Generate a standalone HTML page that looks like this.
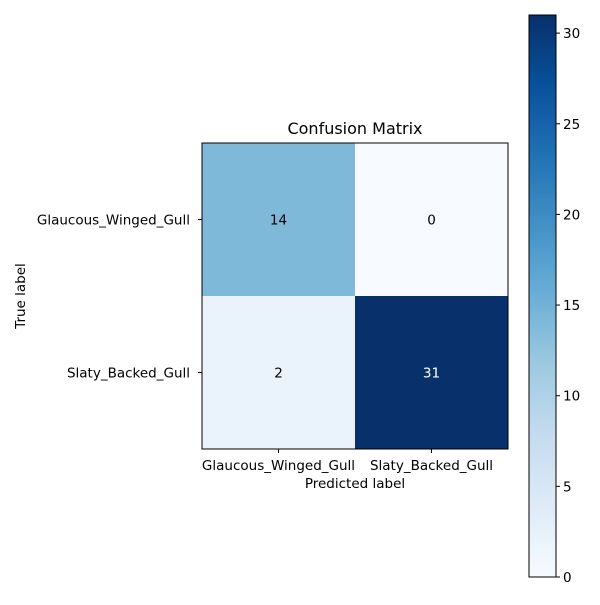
<!DOCTYPE html>
<html><head><meta charset="utf-8"><style>
body{margin:0;background:#fff;}
svg text{font-family:"DejaVu Sans","Liberation Sans",sans-serif;fill:#000;}
</style></head><body>
<svg id="chart" width="600" height="600" viewBox="0 0 600 600">
<defs>
<linearGradient id="blues" x1="0" y1="1" x2="0" y2="0">
<stop offset="0" stop-color="#f7fbff"/><stop offset="0.125" stop-color="#deebf7"/>
<stop offset="0.25" stop-color="#c6dbef"/><stop offset="0.375" stop-color="#9ecae1"/>
<stop offset="0.5" stop-color="#6baed6"/><stop offset="0.625" stop-color="#4292c6"/>
<stop offset="0.75" stop-color="#2171b5"/><stop offset="0.875" stop-color="#08519c"/>
<stop offset="1" stop-color="#08306b"/>
</linearGradient>
</defs>
<g id="cells"></g>
<rect x="202" y="143" width="306" height="306" fill="none" stroke="#000" stroke-width="1"/>
<text x="355" y="134" font-size="16" text-anchor="middle">Confusion Matrix</text>
<text x="355" y="488" font-size="13.5" text-anchor="middle">Predicted label</text>
<text x="25" y="296" font-size="13.5" text-anchor="middle" transform="rotate(-90 25 296)">True label</text>
<g id="ticks"></g>
<rect x="529" y="15" width="27" height="562" fill="url(#blues)" stroke="#000" stroke-width="1"/>
<g id="cbticks"></g>
</svg>
<script>
const labels = ["Glaucous_Winged_Gull","Slaty_Backed_Gull"];
const matrix = [[14,0],[2,31]];
const cbTicks = [0,5,10,15,20,25,30];
const vmax = 31;
const NS="http://www.w3.org/2000/svg";
const x0=202,y0=143,cs=153;
const stops=[[0,[247,251,255]],[0.125,[222,235,247]],[0.25,[198,219,239]],[0.375,[158,202,225]],[0.5,[107,174,214]],[0.625,[66,146,198]],[0.75,[33,113,181]],[0.875,[8,81,156]],[1,[8,48,107]]];
function blues(t){for(let i=1;i<stops.length;i++){if(t<=stops[i][0]){const a=stops[i-1],b=stops[i],f=(t-a[0])/(b[0]-a[0]);return "rgb("+a[1].map((v,k)=>Math.round(v+(b[1][k]-v)*f)).join(",")+")";}}return "rgb(8,48,107)";}
function mk(tag,attrs,parent){const e=document.createElementNS(NS,tag);for(const k in attrs)e.setAttribute(k,attrs[k]);parent.appendChild(e);return e;}
const cells=document.getElementById("cells"),ticks=document.getElementById("ticks"),cb=document.getElementById("cbticks");
const cbY=v=>577-v/vmax*562;
matrix.forEach((row,i)=>row.forEach((v,j)=>{
 const r=mk("rect",{x:x0+j*cs,y:y0+i*cs,width:cs,height:cs,fill:blues(v/vmax)},cells);
 
 
 const t=mk("text",{x:x0+j*cs+cs/2,y:y0+i*cs+cs/2+5,"font-size":13.5,"text-anchor":"middle",style:"fill:"+(v>vmax/2?"#fff":"#000")},cells);
 t.textContent=v;
 
 
}));
labels.forEach((l,i)=>{
 const c=x0+i*cs+cs/2;
 mk("line",{x1:c,x2:c,y1:449,y2:453,stroke:"#000"},ticks);
 const tx=mk("text",{x:c,y:470,"font-size":13.5,"text-anchor":"middle"},ticks);tx.textContent=l;
 
 
 const cy=y0+i*cs+cs/2;
 mk("line",{x1:198,x2:202,y1:cy,y2:cy,stroke:"#000"},ticks);
 const ty=mk("text",{x:190,y:cy+5,"font-size":13.5,"text-anchor":"end"},ticks);ty.textContent=l;
 
 
});
cbTicks.forEach(v=>{
 const y=cbY(v);
 mk("line",{x1:556,x2:560,y1:y,y2:y,stroke:"#000"},cb);
 const t=mk("text",{x:563,y:y+5,"font-size":13.5},cb);t.textContent=v;
 
 
});
</script>
</body></html>
